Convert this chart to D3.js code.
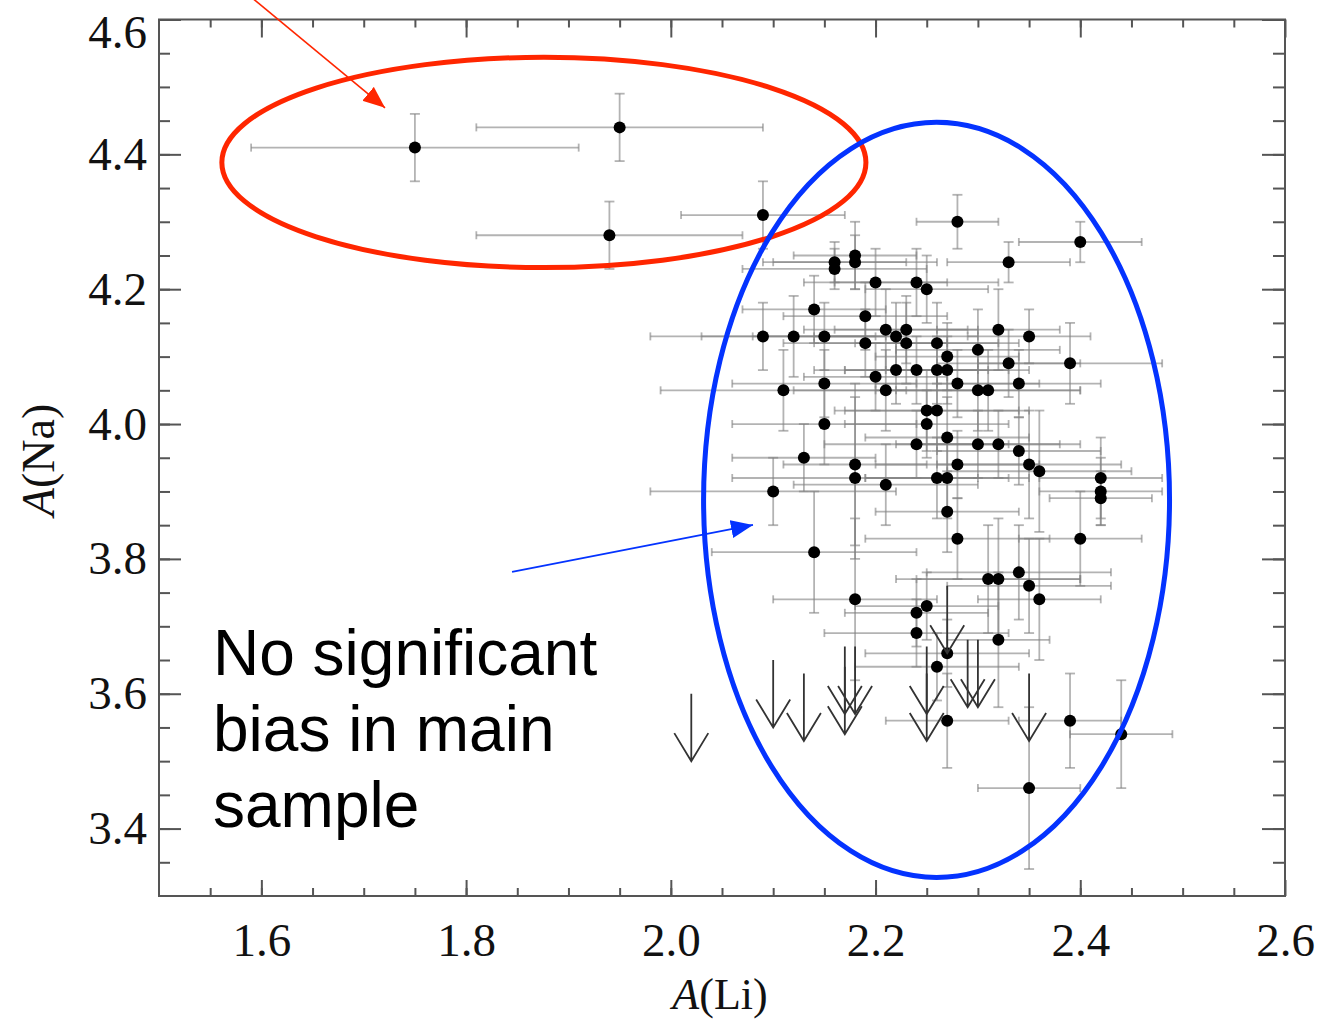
<!DOCTYPE html>
<html>
<head>
<meta charset="utf-8">
<script src="https://cdn.jsdelivr.net/npm/d3@7"></script>
<style>body{margin:0;background:#fff}</style>
</head>
<body>
<svg id="chart" width="1319" height="1019"></svg>
<script>
// detections: A(Li), A(Na) and their errors
const li = [1.75, 1.95, 1.94, 2.09,
    2.28, 2.40, 2.33, 2.16, 2.16, 2.18, 2.18, 2.20, 2.24, 2.25, 2.14, 2.19,
    2.21, 2.23, 2.22, 2.23, 2.26, 2.32, 2.35, 2.09, 2.12, 2.15, 2.19, 2.30,
    2.27, 2.33, 2.39, 2.20, 2.22, 2.24, 2.26, 2.27, 2.28, 2.34, 2.30, 2.31,
    2.11, 2.15, 2.21, 2.25, 2.26, 2.25, 2.15, 2.27, 2.24, 2.30, 2.32, 2.34,
    2.13, 2.18, 2.28, 2.35, 2.36, 2.18, 2.26, 2.27, 2.21, 2.42, 2.42, 2.42,
    2.10, 2.27, 2.28, 2.40, 2.14, 2.34, 2.31, 2.32, 2.35, 2.36, 2.18, 2.25,
    2.24, 2.24, 2.32, 2.27, 2.26, 2.27, 2.39, 2.44, 2.35];
const na = [4.41, 4.44, 4.28, 4.31,
    4.30, 4.27, 4.24, 4.24, 4.23, 4.25, 4.24, 4.21, 4.21, 4.20, 4.17, 4.16,
    4.14, 4.14, 4.13, 4.12, 4.12, 4.14, 4.13, 4.13, 4.13, 4.13, 4.12, 4.11,
    4.10, 4.09, 4.09, 4.07, 4.08, 4.08, 4.08, 4.08, 4.06, 4.06, 4.05, 4.05,
    4.05, 4.06, 4.05, 4.02, 4.02, 4.00, 4.00, 3.98, 3.97, 3.97, 3.97, 3.96,
    3.95, 3.94, 3.94, 3.94, 3.93, 3.92, 3.92, 3.92, 3.91, 3.92, 3.90, 3.89,
    3.90, 3.87, 3.83, 3.83, 3.81, 3.78, 3.77, 3.77, 3.76, 3.74, 3.74, 3.73,
    3.72, 3.69, 3.68, 3.66, 3.64, 3.56, 3.56, 3.54, 3.46];
const liErr = [0.16, 0.14, 0.13, 0.08,
    0.04, 0.06, 0.06, 0.07, 0.09, 0.06, 0.08, 0.07, 0.08, 0.06, 0.07, 0.08,
    0.08, 0.07, 0.08, 0.09, 0.08, 0.06, 0.06, 0.11, 0.09, 0.07, 0.08, 0.08,
    0.07, 0.07, 0.09, 0.07, 0.08, 0.07, 0.09, 0.06, 0.08, 0.08, 0.10, 0.09,
    0.12, 0.09, 0.09, 0.09, 0.09, 0.08, 0.09, 0.08, 0.09, 0.08, 0.08, 0.08,
    0.07, 0.07, 0.08, 0.09, 0.09, 0.12, 0.07, 0.08, 0.09, 0.06, 0.06, 0.05,
    0.12, 0.07, 0.09, 0.06, 0.10, 0.09, 0.09, 0.08, 0.08, 0.06, 0.08, 0.07,
    0.07, 0.09, 0.05, 0.08, 0.08, 0.06, 0.05, 0.05, 0.05];
const naErr = [0.05, 0.05, 0.05, 0.05,
    0.04, 0.03, 0.03, 0.03, 0.03, 0.05, 0.04, 0.05, 0.05, 0.05, 0.05, 0.05,
    0.06, 0.05, 0.05, 0.06, 0.06, 0.06, 0.04, 0.05, 0.06, 0.05, 0.05, 0.06,
    0.05, 0.05, 0.06, 0.05, 0.05, 0.05, 0.05, 0.05, 0.05, 0.05, 0.06, 0.06,
    0.06, 0.05, 0.06, 0.06, 0.06, 0.05, 0.06, 0.06, 0.05, 0.05, 0.05, 0.05,
    0.05, 0.12, 0.05, 0.08, 0.09, 0.12, 0.06, 0.06, 0.06, 0.06, 0.05, 0.04,
    0.05, 0.06, 0.06, 0.07, 0.09, 0.07, 0.08, 0.09, 0.07, 0.09, 0.12, 0.05,
    0.05, 0.05, 0.10, 0.05, 0.05, 0.07, 0.07, 0.08, 0.12];

// upper limits on A(Na)
const limLi = [2.02, 2.10, 2.13, 2.17, 2.17, 2.18, 2.25, 2.25, 2.27, 2.29, 2.30, 2.35];
const limNa = [3.50, 3.55, 3.53, 3.54, 3.57, 3.57, 3.57, 3.53, 3.66, 3.58, 3.58, 3.53];

const xMajor = [1.6, 1.8, 2.0, 2.2, 2.4, 2.6];
const yMajor = [3.4, 3.6, 3.8, 4.0, 4.2, 4.4, 4.6];

const svg = d3.select("#chart");
const x = d3.scaleLinear().domain([1.5, 2.6]).range([159, 1285]);
const y = d3.scaleLinear().domain([3.3, 4.6]).range([896, 19.5]);

const xMinor = d3.range(31, 52).map(i => i * 0.05);
const yMinor = d3.range(67, 92).map(i => i * 0.05);

const serif = "'Liberation Serif', 'Times New Roman', serif";

function styleAxis(g) {
    g.select(".domain").remove();
    g.selectAll("line").attr("stroke", "#555").attr("stroke-width", 2);
    g.selectAll("text").attr("font-family", serif).attr("font-size", 47).attr("fill", "#111");
}

// ticks inside the frame on all four sides
svg.append("g").attr("transform", "translate(0,896)")
    .call(d3.axisBottom(x).tickValues(xMinor).tickSize(-8).tickFormat("")).call(styleAxis);
svg.append("g").attr("transform", "translate(0,896)")
    .call(d3.axisBottom(x).tickValues(xMajor).tickSize(-16).tickPadding(27).tickFormat(d3.format(".1f")))
    .call(styleAxis);
svg.append("g").attr("transform", "translate(0,19.5)")
    .call(d3.axisTop(x).tickValues(xMinor).tickSize(-8).tickFormat("")).call(styleAxis);
svg.append("g").attr("transform", "translate(0,19.5)")
    .call(d3.axisTop(x).tickValues(xMajor).tickSize(-18).tickFormat("")).call(styleAxis);

svg.append("g").attr("transform", "translate(159,0)")
    .call(d3.axisLeft(y).tickValues(yMinor).tickSize(-11).tickFormat("")).call(styleAxis);
const yAxis = svg.append("g").attr("transform", "translate(159,0)")
    .call(d3.axisLeft(y).tickValues(yMajor).tickSize(-22).tickPadding(12).tickFormat(d3.format(".1f")))
    .call(styleAxis);
// top label sits below its tick, inside the page
yAxis.selectAll(".tick text").filter(d => d === 4.6).attr("transform", "translate(0,13)");

svg.append("g").attr("transform", "translate(1285,0)")
    .call(d3.axisRight(y).tickValues(yMinor).tickSize(-12).tickFormat("")).call(styleAxis);
svg.append("g").attr("transform", "translate(1285,0)")
    .call(d3.axisRight(y).tickValues(yMajor).tickSize(-23).tickFormat("")).call(styleAxis);

svg.append("rect")
    .attr("x", x(1.5)).attr("y", y(4.6))
    .attr("width", x(2.6) - x(1.5)).attr("height", y(3.3) - y(4.6))
    .attr("fill", "none").attr("stroke", "#555").attr("stroke-width", 2);

// axis titles
const xt = svg.append("text").attr("x", 720).attr("y", 1009)
    .attr("text-anchor", "middle").attr("font-family", serif).attr("font-size", 44).attr("fill", "#111");
xt.append("tspan").attr("font-style", "italic").text("A");
xt.append("tspan").text("(Li)");

const yt = svg.append("text").attr("transform", "translate(54,460) rotate(-90)")
    .attr("text-anchor", "middle").attr("font-family", serif).attr("font-size", 46).attr("fill", "#111");
yt.append("tspan").attr("font-style", "italic").text("A");
yt.append("tspan").text("(Na)");

// error bars
const pts = li.map((v, i) => ({ li: v, na: na[i], ex: liErr[i], ey: naErr[i] }));
const eb = svg.append("g").attr("stroke", "#808080").attr("stroke-opacity", 0.6).attr("stroke-width", 1.8);
const cap = 5;
pts.forEach(d => {
    const cx = x(d.li), cy = y(d.na);
    const x0 = x(d.li - d.ex), x1 = x(d.li + d.ex);
    const y0 = y(d.na - d.ey), y1 = y(d.na + d.ey);
    eb.append("line").attr("x1", x0).attr("x2", x1).attr("y1", cy).attr("y2", cy);
    eb.append("line").attr("x1", x0).attr("x2", x0).attr("y1", cy - 4).attr("y2", cy + 4);
    eb.append("line").attr("x1", x1).attr("x2", x1).attr("y1", cy - 4).attr("y2", cy + 4);
    eb.append("line").attr("x1", cx).attr("x2", cx).attr("y1", y0).attr("y2", y1);
    eb.append("line").attr("x1", cx - cap).attr("x2", cx + cap).attr("y1", y0).attr("y2", y0);
    eb.append("line").attr("x1", cx - cap).attr("x2", cx + cap).attr("y1", y1).attr("y2", y1);
});

svg.append("g").selectAll("circle")
    .data(pts)
    .enter()
    .append("circle")
    .attr("cx", d => x(d.li))
    .attr("cy", d => y(d.na))
    .attr("r", 6)
    .attr("fill", "#000");

// upper-limit arrows
const lims = limLi.map((v, i) => ({ li: v, na: limNa[i] }));
svg.append("g").selectAll("path")
    .data(lims)
    .enter()
    .append("path")
    .attr("d", d => {
        const px = x(d.li), tip = y(d.na), top = y(d.na + 0.1);
        return `M${px},${top}L${px},${tip}M${px - 17},${tip - 28}L${px},${tip}L${px + 17},${tip - 28}`;
    })
    .attr("fill", "none")
    .attr("stroke", "#333")
    .attr("stroke-width", 1.8);

// annotations
const red = "#ff2600", blue = "#0433ff";
const defs = svg.append("defs");
[["headRed", red], ["headBlue", blue]].forEach(([id, c]) => {
    defs.append("marker").attr("id", id)
        .attr("markerUnits", "userSpaceOnUse")
        .attr("markerWidth", 24).attr("markerHeight", 20)
        .attr("refX", 22).attr("refY", 9)
        .attr("orient", "auto")
        .append("path").attr("d", "M0,0L22,9L0,18Z").attr("fill", c);
});

svg.append("ellipse")
    .attr("cx", x(1.876)).attr("cy", y(4.388))
    .attr("rx", x(1.876 + 0.3146) - x(1.876)).attr("ry", y(4.388) - y(4.388 + 0.156))
    .attr("fill", "none").attr("stroke", red).attr("stroke-width", 5);

svg.append("ellipse")
    .attr("cx", x(2.2596)).attr("cy", y(3.8875))
    .attr("rx", x(2.2596 + 0.2276) - x(2.2596)).attr("ry", y(3.8875) - y(3.8875 + 0.56))
    .attr("fill", "none").attr("stroke", blue).attr("stroke-width", 5);

svg.append("line")
    .attr("x1", x(1.591)).attr("y1", y(4.632))
    .attr("x2", x(1.7208)).attr("y2", y(4.469))
    .attr("stroke", red).attr("stroke-width", 1.6)
    .attr("marker-end", "url(#headRed)");

svg.append("line")
    .attr("x1", x(1.8449)).attr("y1", y(3.7807))
    .attr("x2", x(2.0803)).attr("y2", y(3.8504))
    .attr("stroke", blue).attr("stroke-width", 1.6)
    .attr("marker-end", "url(#headBlue)");

const note = ["No significant", "bias in main", "sample"];
svg.append("g").selectAll("text")
    .data(note)
    .enter()
    .append("text")
    .attr("x", 213)
    .attr("y", (d, i) => 675 + i * 76)
    .attr("font-family", "'Liberation Sans', Arial, sans-serif")
    .attr("font-size", 64)
    .attr("fill", "#000")
    .text(d => d);
</script>
</body>
</html>
